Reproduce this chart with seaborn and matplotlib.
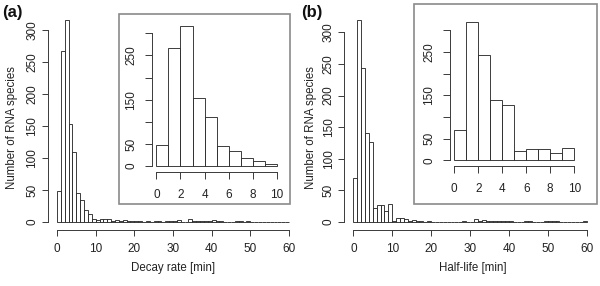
import numpy as np
import pandas as pd
import matplotlib
matplotlib.use("Agg")
import matplotlib.pyplot as plt
from matplotlib.patches import Rectangle
import seaborn as sns

# ---------------- data (counts per 1-min bin, 0..60) ----------------
bin_edges = list(range(0, 61))
decay_counts = [48, 268, 316, 153, 110, 45, 35, 19, 12, 5,
                3, 4, 4, 4, 2, 3, 2, 3, 1, 1,
                1, 1, 0, 1, 0, 1, 1, 0, 2, 2,
                1, 3, 0, 0, 4, 1, 1, 1, 1, 2,
                3, 1, 1, 0, 0, 0, 1, 1, 0, 1,
                0, 0, 0, 0, 0, 0, 0, 0, 0, 0]
halflife_counts = [70, 320, 243, 140, 127, 22, 27, 26, 18, 28,
                   2, 6, 6, 4, 2, 3, 1, 1, 0, 2,
                   0, 0, 0, 0, 0, 0, 0, 0, 2, 0,
                   0, 4, 2, 3, 2, 2, 1, 1, 1, 1,
                   1, 0, 0, 0, 1, 1, 0, 0, 0, 1,
                   1, 2, 1, 0, 0, 0, 0, 0, 0, 1]
main_xticks = [0, 10, 20, 30, 40, 50, 60]
main_yticks = [0, 50, 100, 150, 200, 250, 300]
inset_xticks = [0, 2, 4, 6, 8, 10]
inset_yticks = [0, 50, 100, 150, 200, 250, 300]
inset_ylabels = ["0", "50", "", "150", "", "250", ""]
panel_labels = ["(a)", "(b)"]
xlabels = ["Decay rate [min]", "Half-life [min]"]
ylabel = "Number of RNA species"

# ---------------- styling ----------------
sns.set_theme(style="white")
plt.rcParams['font.family'] = ['Liberation Sans', 'DejaVu Sans']

W, H = 600, 286
fig = plt.figure(figsize=(6.0, 2.86), dpi=100)
fig.patch.set_facecolor("white")

def px_axes(left, top, right, bottom, z=1):
    return fig.add_axes([left / W, (H - bottom) / H, (right - left) / W, (bottom - top) / H], zorder=z)

AX_COL = "#3a3a3a"
BAR_EDGE = "#1e1e1e"

def style_axes(ax, xmax, ymax_data, xticks, yticks, ylabels, tick_len, xpad, ypad, fs):
    xr = xmax * 0.04
    yr = ymax_data * 0.04
    ax.set_xlim(-xr, xmax + xr)
    ax.set_ylim(-yr, ymax_data + yr)
    ax.set_facecolor("none")
    for s in ["top", "right"]:
        ax.spines[s].set_visible(False)
    for s in ["left", "bottom"]:
        ax.spines[s].set_color(AX_COL)
        ax.spines[s].set_linewidth(0.7)
    ax.spines["bottom"].set_bounds(xticks[0], xticks[-1])
    ax.spines["left"].set_bounds(yticks[0], yticks[-1])
    ax.set_xticks(xticks)
    ax.set_xticklabels([str(t) for t in xticks])
    ax.set_yticks(yticks)
    ax.set_yticklabels(ylabels, rotation=90, va="center")
    ax.tick_params(axis="both", direction="out", length=tick_len, width=0.7,
                   color=AX_COL, labelsize=fs, labelcolor="#222222")
    ax.tick_params(axis="x", pad=xpad, bottom=True)
    ax.tick_params(axis="y", pad=ypad, left=True)
    ax.set_xlabel("")
    ax.set_ylabel("")
    ax.grid(False)

def draw_hist(ax, counts, edges):
    centers = [(edges[i] + edges[i + 1]) / 2 for i in range(len(counts))]
    df = pd.DataFrame({"x": centers, "w": counts})
    sns.histplot(data=df, x="x", weights="w", bins=edges, ax=ax, stat="count",
                 color="white", alpha=1, edgecolor=BAR_EDGE, linewidth=0.6)

# main axes and inset positions (pixels: left, top, right, bottom)
mains = [(47.7, 11.8, 298.3, 230.0), (344.0, 11.6, 596.0, 230.0)]
insets = [(151.5, 20.7, 281.8, 171.6), (449.5, 16.1, 579.0, 165.9)]
boxes = [(119, 14, 290, 204), (414, 4, 597, 204)]
series = [decay_counts, halflife_counts]
xlab_x = [173, 473]
ylab_x = [12, 311]
plab_x = [12, 312]

for i in range(2):
    counts = series[i]
    ax = px_axes(*mains[i], z=1)
    draw_hist(ax, counts, bin_edges)
    style_axes(ax, 60, max(counts), main_xticks, main_yticks,
               [str(t) for t in main_yticks], 4.0, 5.6, 2.6, 8.5)

    # inset frame
    bl, bt, br, bb = boxes[i]
    rect = Rectangle((bl / W, (H - bb) / H), (br - bl) / W, (bb - bt) / H,
                     transform=fig.transFigure, facecolor="white",
                     edgecolor="#8a8a8a", linewidth=1.2, zorder=2)
    fig.add_artist(rect)

    iax = px_axes(*insets[i], z=3)
    inset_counts = counts[:10]
    draw_hist(iax, inset_counts, bin_edges[:11])
    style_axes(iax, 10, max(inset_counts), inset_xticks, inset_yticks,
               inset_ylabels, 5.0, 7.2, 5.3, 8.5)

    fig.text(xlab_x[i] / W, (H - 268) / H, xlabels[i], ha="center", va="center",
             fontsize=8.3, color="#222222")
    fig.text(ylab_x[i] / W, (H - 128) / H, ylabel, ha="center", va="center",
             rotation=90, fontsize=8.3, color="#222222")
    fig.text(plab_x[i] / W, (H - 12) / H, panel_labels[i], ha="center", va="center",
             fontsize=12, fontweight="bold", color="#111111")

fig.savefig("out.png", dpi=100, facecolor="white")
